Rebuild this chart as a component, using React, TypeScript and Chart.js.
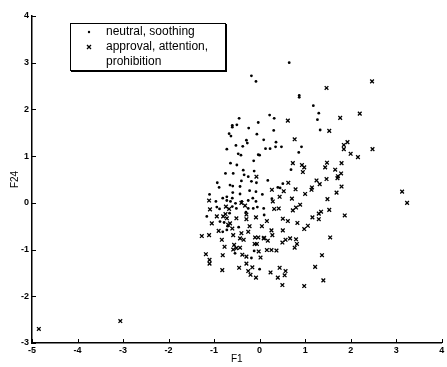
import React, { useEffect, useRef } from "react";
import { Chart, registerables } from "chart.js";

Chart.register(...registerables);

const neutralX = [0.65, -0.18, -0.08, 0.87, 0.87, 1.18, 1.3, 1.27, 1.33, 0.22, 0.32, -0.45, -0.6, -0.6, -0.5, -0.03, -0.24, 0.31, -0.67, -0.63, -0.06, -0.29, -0.27, 0.09, -0.52, -0.37, -0.72, 0.36, 0.48, 0.23, 0.13, 0.35, 0.92, 0.86, -0.03, 0.0, -0.47, -0.41, -0.13, -0.64, -0.5, 0.69, -0.75, -0.58, -0.36, -0.34, -0.25, -0.12, 0.18, -0.65, -0.59, -0.93, -0.89, -0.4, -0.43, -0.18, -0.07, 0.51, 0.4, 0.45, 0.27, -0.96, -0.81, -0.72, -0.64, -0.6, -0.53, -0.39, -0.25, -0.08, -0.15, 0.06, -0.08, -0.22, -0.43, -0.59, -0.72, -0.94, -0.88, -0.6, -0.51, -0.25, -0.14, -0.05, 0.09, -1.16, -0.87, 0.1, -0.81, -0.72, -0.54, -0.18, -0.12, 0.0, -0.7, -1.1, -0.78, -0.66, -0.46, -0.3];
const neutralY = [3.0, 2.72, 2.6, 2.3, 2.26, 2.08, 1.92, 1.78, 1.56, 1.88, 1.81, 1.81, 1.66, 1.62, 1.67, 1.72, 1.6, 1.55, 1.48, 1.43, 1.47, 1.34, 1.28, 1.35, 1.23, 1.21, 1.15, 1.3, 1.2, 1.16, 1.16, 1.2, 1.2, 1.08, 1.03, 1.02, 1.05, 1.02, 0.9, 0.85, 0.81, 0.71, 0.63, 0.63, 0.7, 0.6, 0.56, 0.68, 0.48, 0.38, 0.36, 0.43, 0.33, 0.47, 0.35, 0.46, 0.43, 0.41, 0.33, 0.32, 0.09, 0.03, 0.1, 0.05, 0.03, 0.1, -0.01, 0.03, 0.05, 0.03, 0.1, 0.18, 0.24, 0.26, 0.19, 0.22, 0.13, -0.09, -0.13, -0.08, -0.12, -0.12, -0.12, -0.09, -0.12, -0.29, -0.4, -0.26, -0.62, -0.58, -1.08, -1.18, -1.03, -1.42, -0.5, 0.18, -0.42, -0.22, -0.52, -0.2];

const approvalX = [2.47, 1.47, 1.77, 2.2, 1.53, 0.62, 0.77, 1.85, 1.93, 1.85, 2.0, 2.16, 2.48, 0.73, 0.93, 0.98, 0.95, 1.48, 1.44, 1.8, 1.66, 1.79, 1.72, -0.07, 0.63, 0.27, 0.79, 1.25, 1.32, 1.15, 1.14, 1.47, 1.71, 1.8, 1.69, 1.49, 1.0, 0.71, 0.44, 0.29, 3.13, 3.24, -1.11, -1.09, -0.74, -0.67, -0.32, 0.32, 0.42, 0.73, 0.8, 0.89, 1.35, 1.3, 1.53, 1.87, 1.16, 1.3, 1.06, 0.98, -0.94, -1.05, -0.8, -0.75, -0.72, -0.51, -0.29, -0.29, -0.08, 0.16, 0.51, 0.62, 0.83, 0.51, 0.26, 0.28, 0.09, 0.18, -0.03, -0.1, -0.25, -0.4, -0.43, -0.58, -0.69, -0.65, -1.27, -1.11, -0.83, -0.77, -0.81, -0.56, -0.51, -0.58, -0.43, -0.38, -0.29, -0.35, -0.11, -0.06, -0.02, 0.02, 0.1, 0.16, 0.26, 0.37, 0.5, 0.57, 0.67, 0.8, 0.82, 0.77, 1.55, 1.37, -1.18, -1.1, -1.1, -0.82, -0.45, -0.29, -0.25, -0.16, -0.2, -0.08, 0.24, 0.44, 0.4, 0.57, 0.55, 0.5, 0.98, 1.22, 1.4, -4.85, -3.06, -0.9, -0.6, -0.22, 0.05, -0.4, 0.53];
const approvalY = [2.6, 2.46, 1.82, 1.91, 1.54, 1.76, 1.36, 1.24, 1.3, 1.15, 1.05, 0.98, 1.15, 0.85, 0.81, 0.76, 0.66, 0.86, 0.76, 0.85, 0.71, 0.63, 0.57, 0.56, 0.43, 0.28, 0.29, 0.48, 0.4, 0.33, 0.28, 0.51, 0.53, 0.35, 0.22, 0.08, 0.19, 0.09, 0.13, 0.03, 0.24, 0.0, 0.05, -0.14, -0.08, -0.13, -0.06, -0.13, -0.12, -0.16, -0.1, -0.04, -0.19, -0.23, -0.15, -0.27, -0.31, -0.35, -0.49, -0.56, -0.29, -0.44, -0.29, -0.24, -0.33, -0.33, -0.25, -0.35, -0.31, -0.39, -0.34, -0.39, -0.43, -0.59, -0.59, -0.69, -0.76, -0.81, -0.74, -0.74, -0.62, -0.65, -0.76, -0.69, -0.47, -0.44, -0.71, -0.69, -0.79, -0.94, -1.12, -0.9, -0.97, -1.0, -0.96, -1.11, -1.15, -0.79, -0.88, -0.88, -1.04, -1.17, -0.75, -1.01, -1.01, -1.02, -0.85, -0.79, -0.76, -0.78, -0.88, -0.96, -0.74, -1.12, -1.1, -1.22, -1.3, -1.44, -1.39, -1.3, -1.46, -1.38, -1.54, -1.6, -1.49, -1.39, -1.6, -1.46, -1.55, -1.76, -1.78, -1.37, -1.66, -2.7, -2.53, -0.6, -0.55, -0.5, -0.5, 0.0, 0.25];

const legendLabels = ["neutral, soothing", "approval, attention,", "prohibition"];
const xAxisTitle = "F1";
const yAxisTitle = "F24";

const toPoints = (xs: number[], ys: number[]) => xs.map((x, i) => ({ x, y: ys[i] }));

const innerTicks = {
  id: "innerTicks",
  afterDraw(chart: any) {
    const { ctx, chartArea, scales } = chart;
    ctx.save();
    ctx.strokeStyle = "#000";
    ctx.lineWidth = 1;
    const xs = scales.x;
    xs.ticks.forEach((t: any) => {
      const px = Math.round(xs.getPixelForValue(t.value)) + 0.5;
      ctx.beginPath();
      ctx.moveTo(px, chartArea.bottom);
      ctx.lineTo(px, chartArea.bottom - 4);
      ctx.stroke();
    });
    const ys = scales.y;
    ys.ticks.forEach((t: any) => {
      const py = Math.round(ys.getPixelForValue(t.value)) + 0.5;
      ctx.beginPath();
      ctx.moveTo(chartArea.left, py);
      ctx.lineTo(chartArea.left + 4, py);
      ctx.stroke();
    });
    ctx.restore();
  },
};

const boxLegend = {
  id: "boxLegend",
  afterDraw(chart: any) {
    const ctx = chart.ctx;
    const left = 70, top = 23, right = 225, bottom = 70;
    ctx.save();
    ctx.fillStyle = "#fff";
    ctx.fillRect(left, top, right - left, bottom - top);
    ctx.strokeStyle = "#000";
    ctx.lineWidth = 1;
    ctx.strokeRect(left + 0.5, top + 0.5, right - left, bottom - top);
    ctx.lineWidth = 2;
    ctx.beginPath();
    ctx.moveTo(left + 1, bottom + 1);
    ctx.lineTo(right + 1, bottom + 1);
    ctx.lineTo(right + 1, top + 1);
    ctx.stroke();
    ctx.fillStyle = "#000";
    ctx.font = "12px 'Liberation Sans', Arial, sans-serif";
    ctx.textBaseline = "middle";
    const rows = [32, 47, 62];
    legendLabels.forEach((lab, i) => ctx.fillText(lab, 106, rows[i]));
    ctx.beginPath();
    ctx.arc(89, rows[0], 1.2, 0, Math.PI * 2);
    ctx.fill();
    ctx.lineWidth = 1.3;
    ctx.beginPath();
    ctx.moveTo(87, rows[1] - 2);
    ctx.lineTo(91, rows[1] + 2);
    ctx.moveTo(91, rows[1] - 2);
    ctx.lineTo(87, rows[1] + 2);
    ctx.stroke();
    ctx.restore();
  },
};

export default function App() {
  const ref = useRef<HTMLCanvasElement | null>(null);
  useEffect(() => {
    if (!ref.current) return;
    const tickFont = { family: "'Liberation Sans', Arial, sans-serif", size: 9, weight: "bold" as const };
    const chart = new Chart(ref.current, {
      type: "scatter",
      data: {
        datasets: [
          {
            label: legendLabels[0],
            data: toPoints(neutralX, neutralY),
            pointStyle: "circle",
            pointRadius: 1.4,
            backgroundColor: "#000",
            borderColor: "#000",
            borderWidth: 0,
          },
          {
            label: legendLabels[1] + " " + legendLabels[2],
            data: toPoints(approvalX, approvalY),
            pointStyle: "crossRot",
            pointRadius: 2.6,
            backgroundColor: "#000",
            borderColor: "#000",
            borderWidth: 1.3,
          },
        ],
      },
      options: {
        animation: false,
        responsive: false,
        layout: { padding: { top: 16, right: 2, left: 0, bottom: 0 } },
        plugins: { legend: { display: false }, tooltip: { enabled: false } },
        scales: {
          x: {
            type: "linear",
            min: -5,
            max: 4,
            ticks: { stepSize: 1, color: "#000", font: tickFont, padding: 2, maxRotation: 0 },
            grid: { display: true, drawOnChartArea: false, drawTicks: false },
            border: { display: true, color: "#000", width: 1.5 },
            title: { display: true, text: xAxisTitle, color: "#000", font: { family: "'Liberation Sans', Arial, sans-serif", size: 10 }, padding: { top: 0, bottom: 2 } },
            afterFit: (s: any) => { s.height = 24; },
          },
          y: {
            type: "linear",
            min: -3,
            max: 4,
            ticks: { stepSize: 1, color: "#000", font: tickFont, padding: 3 },
            grid: { display: true, drawOnChartArea: false, drawTicks: false },
            border: { display: true, color: "#000", width: 1.5 },
            title: { display: true, text: yAxisTitle, color: "#000", font: { family: "'Liberation Sans', Arial, sans-serif", size: 10 }, padding: { top: 9, bottom: 0 } },
            afterFit: (s: any) => { s.width = 32; },
          },
        },
      },
      plugins: [innerTicks, boxLegend],
    });
    return () => chart.destroy();
  }, []);
  return (
    <div style={{ position: "fixed", left: 0, top: 0, width: 447, height: 367, background: "#fff" }}>
      <canvas ref={ref} width={447} height={367} style={{ width: 447, height: 367, display: "block" }} />
    </div>
  );
}
